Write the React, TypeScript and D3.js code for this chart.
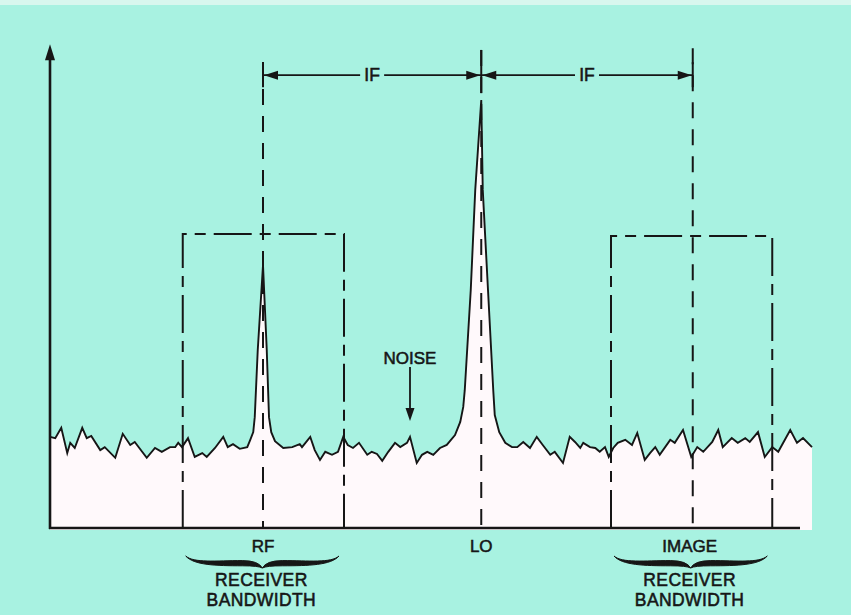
import React from 'react';
import * as d3 from 'd3';

const W = 851;
const H = 615;

// spectrum trace: frequency (arbitrary units) and amplitude (relative units)
const noiseFreq = [
  0, 0.7, 1.5, 2.3, 2.7, 3.3, 4.3, 4.9, 5.5, 6.7, 7.3, 8.7, 9.7, 10.7, 11.3, 12.9, 14.0, 14.9, 16.0, 16.7,
  17.1, 17.6, 18.4, 19.3, 20.3, 20.9, 22.0, 23.1, 23.7, 24.4, 25.3, 26.3, 26.7, 27.1, 27.3, 27.7, 28.4, 28.9,
  29.2, 29.5, 30.0, 31.1, 32.3, 33.3, 33.6, 34.7, 35.3, 36.0, 36.7, 37.6, 38.4, 39.1, 39.7, 40.4, 41.2, 42.3,
  42.9, 43.6, 44.3, 45.1, 46.0, 46.7, 47.6, 48.0, 48.9, 49.6, 50.3, 51.1, 52.0, 52.9, 54.0, 54.7, 55.1, 55.3,
  56.1, 56.7, 57.5, 57.7, 58.4, 59.1, 59.3, 59.9, 60.7, 61.6, 62.3, 63.1, 64.0, 64.9, 65.7, 66.7, 67.3, 68.4,
  69.3, 70.0, 70.7, 71.1, 72.0, 72.7, 73.3, 74.0, 74.5, 75.1, 75.7, 76.7, 77.6, 78.3, 79.3, 80.0, 80.7, 81.3,
  82.7, 83.3, 84.4, 85.5, 86.3, 87.1, 88.3, 89.1, 89.7, 90.9, 91.7, 92.7, 93.3, 94.4, 95.3, 96.3, 97.1, 98.7,
  99.6, 100.4, 101.6,
];
const noiseLevel = [
  21.3, 21.0, 23.4, 17.5, 19.9, 18.7, 23.4, 21.0, 21.5, 18.2, 18.9, 16.4, 22.0, 19.4, 20.1, 16.4, 18.7, 17.8, 18.9, 18.9,
  19.9, 18.9, 21.0, 16.6, 17.5, 16.6, 18.7, 21.3, 18.9, 19.6, 18.5, 18.9, 20.6, 22.4, 25.9, 41.6, 61.4, 41.6,
  25.9, 22.4, 20.3, 18.7, 18.9, 19.6, 18.9, 21.3, 18.2, 15.9, 17.8, 17.1, 17.8, 21.3, 19.4, 18.7, 19.9, 17.1,
  17.8, 17.3, 15.7, 17.8, 19.9, 18.9, 19.9, 21.3, 15.2, 17.1, 17.8, 17.1, 18.7, 19.4, 21.7, 24.8, 28.3, 32.2,
  55.6, 79.0, 100, 79.0, 55.6, 32.2, 26.4, 22.4, 19.9, 18.9, 18.9, 20.1, 18.7, 21.3, 19.4, 17.1, 17.8, 15.2,
  21.3, 20.1, 18.7, 19.9, 18.9, 18.7, 17.8, 18.9, 16.6, 18.7, 19.9, 20.6, 19.4, 22.2, 15.9, 17.5, 18.9, 17.1,
  20.6, 19.9, 22.9, 16.6, 18.9, 17.8, 20.1, 22.9, 18.9, 21.0, 19.9, 21.0, 20.1, 22.4, 16.6, 18.9, 17.8, 22.9,
  19.9, 21.0, 18.9,
];

const markerNames = ['RF', 'LO', 'IMAGE'];
const markerFreq = [28.4, 57.5, 85.7];
const markerTop = [108.9, 111.7, 112.1];

const bandLow = [17.7, 74.8];
const bandHigh = [39.2, 96.3];
const bandTop = [68.7, 68.2];
const bandLines = ['RECEIVER', 'BANDWIDTH'];

const ifText = 'IF';
const ifLevel = 105.8;

const noiseText = 'NOISE';
const noiseArrowFreq = 48.0;
const noiseArrowTop = 37.6;
const noiseArrowTip = 25.0;
const noiseTextLevel = 38.3;

const axisFreqMax = 100;
const axisLevelMax = 113;

const BG = '#a8f2e1';
const FILL = '#fff9fb';
const INK = '#161616';
const FONT = '"Liberation Sans", Arial, Helvetica, sans-serif';

function arrowHead(tx: number, ty: number, dx: number, dy: number, len = 13, half = 4.5) {
  const bx = tx - dx * len;
  const by = ty - dy * len;
  const px = -dy * half;
  const py = dx * half;
  return `${tx},${ty} ${bx + px},${by + py} ${bx - px},${by - py}`;
}

// calligraphic curly brace (filled), ends up, tip down
function brace(x1: number, x2: number, y0: number, h: number) {
  const xm = (x1 + x2) / 2;
  const ym = y0 + h * 0.6;
  const t = 2.6;
  const top = `M${x1},${y0} C${x1 + 8},${ym} ${x1 + 30},${ym - t} ${xm - 20},${ym - t} Q${xm - 4},${ym - t} ${xm},${y0 + h} Q${xm + 4},${ym - t} ${xm + 20},${ym - t} C${x2 - 30},${ym - t} ${x2 - 8},${ym} ${x2},${y0}`;
  const back = ` C${x2 - 8},${ym + 2} ${x2 - 30},${ym + t} ${xm + 20},${ym + t} Q${xm + 4},${ym + t} ${xm},${y0 + h} Q${xm - 4},${ym + t} ${xm - 20},${ym + t} C${x1 + 30},${ym + t} ${x1 + 8},${ym + 2} ${x1},${y0} Z`;
  return top + back;
}

export default function App() {
  const x = d3.scaleLinear().domain([0, 100]).range([50, 800]);
  const y = d3.scaleLinear().domain([0, 100]).range([528, 100]);

  const pts = noiseFreq.map((f, i) => [f, noiseLevel[i]] as [number, number]);
  const line = d3.line<[number, number]>().x(d => x(d[0])).y(d => y(d[1])).curve(d3.curveLinear);
  const area = d3.area<[number, number]>().x(d => x(d[0])).y0(y(0) + 2).y1(d => y(d[1])).curve(d3.curveLinear);

  const y0 = y(0);
  const yIF = y(ifLevel);
  const txt = { fill: INK, stroke: INK, strokeWidth: 0.55 };

  return (
    <svg width={W} height={H} style={{ position: 'absolute', left: 0, top: 0 }} fontFamily={FONT}>
      <rect x={0} y={0} width={W} height={H} fill={BG} />
      <rect x={0} y={0} width={W} height={5} fill="#d8f7ee" />

      <path d={area(pts) || ''} fill={FILL} />

      {/* receiver bandwidth boxes */}
      {bandLow.map((lo, i) => {
        const xl = x(lo), xr = x(bandHigh[i]), yt = y(bandTop[i]);
        return (
          <g key={'band' + i} stroke={INK} strokeWidth={2} fill="none" strokeDasharray="38,8,11,8">
            <path d={`M${xl},${y0} L${xl},${yt} L${xr},${yt} L${xr},${y0}`} />
          </g>
        );
      })}

      {/* marker dashed lines */}
      {markerFreq.map((f, i) => (
        <line key={'m' + i} x1={x(f)} x2={x(f)} y1={y(markerTop[i])} y2={y0}
          stroke={INK} strokeWidth={2} strokeDasharray="16,11" />
      ))}
      {markerFreq.map((f, i) => (
        <line key={'mt' + i} x1={x(f)} x2={x(f)} y1={i === 1 ? y(markerTop[i]) : yIF - 13} y2={i === 1 ? yIF + 18 : yIF + 12}
          stroke={INK} strokeWidth={2} />
      ))}

      <path d={line(pts) || ''} fill="none" stroke={INK} strokeWidth={1.9} strokeLinejoin="miter" />

      {/* axes */}
      <line x1={x(0)} x2={x(0)} y1={y0 + 1} y2={y(axisLevelMax) + 8} stroke={INK} strokeWidth={2.6} />
      <polygon points={arrowHead(x(0), y(axisLevelMax), 0, -1, 16, 5)} fill={INK} />
      <line x1={x(0) - 1} x2={x(axisFreqMax)} y1={y0} y2={y0} stroke={INK} strokeWidth={2.6} />

      {/* IF dimension arrows */}
      {[0, 1].map(i => {
        const xa = x(markerFreq[i]), xb = x(markerFreq[i + 1]);
        const xm = (xa + xb) / 2;
        return (
          <g key={'if' + i}>
            <line x1={xa} x2={xm - 12} y1={yIF} y2={yIF} stroke={INK} strokeWidth={1.8} />
            <line x1={xm + 12} x2={xb} y1={yIF} y2={yIF} stroke={INK} strokeWidth={1.8} />
            <polygon points={arrowHead(xa + 1, yIF, -1, 0, 14, 4.5)} fill={INK} />
            <polygon points={arrowHead(xb - 1, yIF, 1, 0, 14, 4.5)} fill={INK} />
            <text x={xm} y={yIF + 6} textAnchor="middle" fontSize={17.5} {...txt}>{ifText}</text>
          </g>
        );
      })}

      {/* noise label */}
      <text x={x(noiseArrowFreq)} y={y(noiseTextLevel)} textAnchor="middle" fontSize={17} {...txt}>{noiseText}</text>
      <line x1={x(noiseArrowFreq)} x2={x(noiseArrowFreq)} y1={y(noiseArrowTop)} y2={y(noiseArrowTip) - 8} stroke={INK} strokeWidth={1.8} />
      <polygon points={arrowHead(x(noiseArrowFreq), y(noiseArrowTip), 0, 1, 13, 4.5)} fill={INK} />

      {/* marker labels */}
      {markerFreq.map((f, i) => (
        <text key={'ml' + i} x={x(f) + (i === 2 ? -3 : 0)} y={y0 + 24} textAnchor="middle" fontSize={17} {...txt}>{markerNames[i]}</text>
      ))}

      {/* braces + bandwidth labels */}
      {bandLow.map((lo, i) => {
        const xl = x(lo) + 3, xr = x(bandHigh[i]) - 5;
        const xc = (x(lo) + x(bandHigh[i])) / 2 - 2;
        return (
          <g key={'bl' + i}>
            <path d={brace(xl, xr, y0 + 28, 12)} fill={INK} stroke={INK} strokeWidth={1} strokeLinejoin="round" />
            {bandLines.map((t, j) => (
              <text key={j} x={xc} y={y0 + 58 + j * 20} textAnchor="middle" fontSize={17.5} letterSpacing={0.4} {...txt}>{t}</text>
            ))}
          </g>
        );
      })}
    </svg>
  );
}
